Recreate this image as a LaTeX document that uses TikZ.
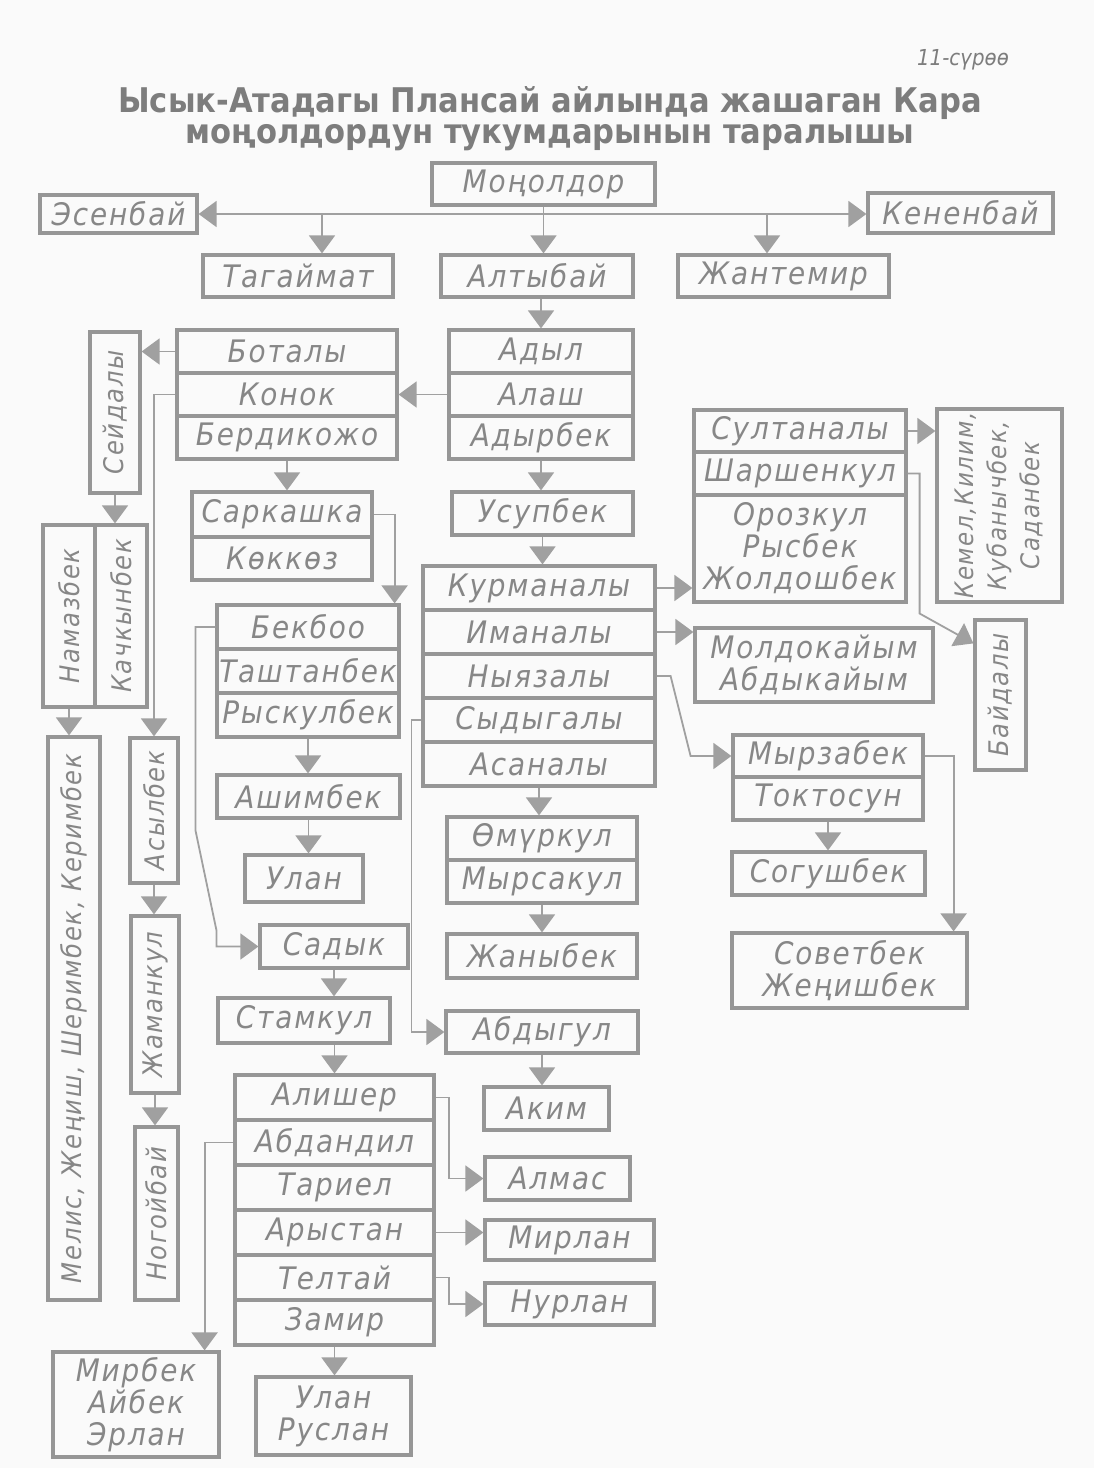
\documentclass[tikz,border=0pt]{standalone}
\usepackage{fontspec}
\usepackage{tikz}
\usetikzlibrary{arrows.meta}
\setmainfont{DejaVu Sans}
\newfontfamily\namefont[LetterSpace=6,FakeStretch=0.9]{DejaVu Sans}
\newfontfamily\titlefont[FakeStretch=0.9]{DejaVu Sans}
\definecolor{paper}{RGB}{250,250,250}
\definecolor{boxgray}{RGB}{150,150,150}
\definecolor{linkgray}{RGB}{160,160,160}
\definecolor{namegray}{RGB}{135,135,135}
\definecolor{titlegray}{RGB}{125,125,125}
\newcommand{\upname}[1]{\rotatebox{90}{#1}}
\tikzset{
  namebox/.style={draw=boxgray, line width=3.2pt, text=namegray, inner sep=0pt, align=center,
    font=\namefont\itshape\fontsize{31}{32}\selectfont},
  sidename/.style={font=\namefont\itshape\fontsize{27}{28}\selectfont},
  link/.style={draw=linkgray, line width=1.8pt},
  arr/.style={-{Triangle[width=26pt,length=18pt]}},
  twoway/.style={{Triangle[width=26pt,length=18pt]}-{Triangle[width=26pt,length=18pt]}}
}

\begin{document}
\begin{tikzpicture}[x=1pt,y=-1pt]
	\fill[paper] (0,0) rectangle (1094,1468);
	\useasboundingbox (0,0) rectangle (1094,1468);
	\node[text=titlegray, font=\titlefont\itshape\fontsize{22}{24}\selectfont] (fignum) at (963,60) {11-сүрөө};
	\node[text=titlegray, align=center, font=\titlefont\bfseries\fontsize{34}{31}\selectfont] (title) at (550,119)
		{Ысык-Атадагы Плансай айлында жашаган Кара\\моңолдордун тукумдарынын таралышы};

	\node[namebox, minimum width=223pt, minimum height=42pt] (mon) at (543.5,184) {Моңолдор};
	\node[namebox, minimum width=157pt, minimum height=38pt] (esen) at (118.5,214) {Эсенбай};
	\node[namebox, minimum width=185pt, minimum height=40pt] (kenen) at (960.5,213) {Кененбай};
	\node[namebox, minimum width=190pt, minimum height=42pt] (tagai) at (298,276) {Тагаймат};
	\node[namebox, minimum width=192pt, minimum height=42pt] (altyb) at (537,276) {Алтыбай};
	\node[namebox, minimum width=211pt, minimum height=42pt] (jantem) at (783.5,276) {Жантемир};

	\node[namebox, minimum width=184pt, minimum height=43pt] (adyl) at (541,351.5) {Адыл};
	\node[namebox, minimum width=184pt, minimum height=43pt] (alash) at (541,394.5) {Алаш};
	\node[namebox, minimum width=184pt, minimum height=43pt] (adyrb) at (541,437.5) {Адырбек};

	\node[namebox, minimum width=220pt, minimum height=43pt] (botaly) at (287,351.5) {Боталы};
	\node[namebox, minimum width=220pt, minimum height=43pt] (konok) at (287,394.5) {Конок};
	\node[namebox, minimum width=220pt, minimum height=43pt] (berdi) at (287,437.5) {Бердикожо};

	\node[namebox, sidename, minimum width=50pt, minimum height=161pt] (seid) at (115,412.5) {\upname{Сейдалы}};
	\node[namebox, sidename, minimum width=52pt, minimum height=182pt] (namaz) at (69,616) {\upname{Намазбек}};
	\node[namebox, sidename, minimum width=52pt, minimum height=182pt] (kachk) at (121,616) {\upname{Качкынбек}};
	\node[namebox, sidename, minimum width=52pt, minimum height=563pt] (melis) at (74,1018.5) {\upname{Мелис, Жеңиш, Шеримбек, Керимбек}};
	\node[namebox, sidename, minimum width=48pt, minimum height=145pt] (asyl) at (154,810.5) {\upname{Асылбек}};
	\node[namebox, sidename, minimum width=48pt, minimum height=177pt] (jaman) at (155,1004.5) {\upname{Жаманкул}};
	\node[namebox, sidename, minimum width=43pt, minimum height=173pt] (nogoi) at (156.5,1213.5) {\upname{Ногойбай}};

	\node[namebox, minimum width=180pt, minimum height=45pt] (sark) at (282,514.5) {Саркашка};
	\node[namebox, minimum width=180pt, minimum height=43pt] (kokkoz) at (282,558.5) {Көккөз};

	\node[namebox, minimum width=182pt, minimum height=44pt] (bekboo) at (308,627) {Бекбоо};
	\node[namebox, minimum width=182pt, minimum height=44pt] (tasht) at (308,671) {Таштанбек};
	\node[namebox, minimum width=182pt, minimum height=44pt] (ryskul) at (308,715) {Рыскулбек};
	\node[namebox, minimum width=183pt, minimum height=43pt] (ashim) at (308.5,796.5) {Ашимбек};
	\node[namebox, minimum width=118pt, minimum height=47pt] (ulan) at (304,878.5) {Улан};
	\node[namebox, minimum width=148pt, minimum height=43pt] (sadyk) at (334,946.5) {Садык};
	\node[namebox, minimum width=172pt, minimum height=45pt] (stamk) at (304,1020.5) {Стамкул};

	\node[namebox, minimum width=199pt, minimum height=45pt] (alisher) at (334.5,1097.5) {Алишер};
	\node[namebox, minimum width=199pt, minimum height=45pt] (abdand) at (334.5,1142.5) {Абдандил};
	\node[namebox, minimum width=199pt, minimum height=45pt] (tariel) at (334.5,1187.5) {Тариел};
	\node[namebox, minimum width=199pt, minimum height=45pt] (arystan) at (334.5,1232.5) {Арыстан};
	\node[namebox, minimum width=199pt, minimum height=45pt] (teltai) at (334.5,1277.5) {Телтай};
	\node[namebox, minimum width=199pt, minimum height=45pt] (zamir) at (334.5,1322.5) {Замир};
	\node[namebox, minimum width=145pt, minimum height=43pt] (almas) at (557.5,1178.5) {Алмас};
	\node[namebox, minimum width=169pt, minimum height=40pt] (mirlan) at (569.5,1240) {Мирлан};
	\node[namebox, minimum width=169pt, minimum height=42pt] (nurlan) at (569.5,1304) {Нурлан};
	\node[namebox, minimum width=166pt, minimum height=105pt] (mirbek) at (136,1404.5) {Мирбек\\Айбек\\Эрлан};
	\node[namebox, minimum width=155pt, minimum height=78pt] (ulanrus) at (333.5,1416) {Улан\\Руслан};

	\node[namebox, minimum width=181pt, minimum height=43pt] (usup) at (542.5,513.5) {Усупбек};
	\node[namebox, minimum width=232pt, minimum height=44pt] (kurman) at (539,588) {Курманалы};
	\node[namebox, minimum width=232pt, minimum height=44pt] (iman) at (539,632) {Иманалы};
	\node[namebox, minimum width=232pt, minimum height=44pt] (nyyaz) at (539,676) {Ныязалы};
	\node[namebox, minimum width=232pt, minimum height=44pt] (sydyg) at (539,720) {Сыдыгалы};
	\node[namebox, minimum width=232pt, minimum height=44pt] (asan) at (539,764) {Асаналы};
	\node[namebox, minimum width=190pt, minimum height=43pt] (omur) at (542,838.5) {Өмүркул};
	\node[namebox, minimum width=190pt, minimum height=43pt] (myrsak) at (542,881.5) {Мырсакул};
	\node[namebox, minimum width=190pt, minimum height=44pt] (janyb) at (542,956) {Жаныбек};
	\node[namebox, minimum width=192pt, minimum height=42pt] (abdyg) at (542,1032) {Абдыгул};
	\node[namebox, minimum width=125pt, minimum height=43pt] (akim) at (546.5,1108.5) {Аким};

	\node[namebox, minimum width=212pt, minimum height=42pt] (sultan) at (800,431) {Султаналы};
	\node[namebox, minimum width=212pt, minimum height=43pt] (sharsh) at (800,473.5) {Шаршенкул};
	\node[namebox, minimum width=212pt, minimum height=107pt] (orozk) at (800,548.5) {Орозкул\\Рысбек\\Жолдошбек};
	\node[namebox, minimum width=125pt, minimum height=193pt, font=\namefont\itshape\fontsize{25.5}{33}\selectfont] (kemel) at (999.5,505.5)
		{\upname{\begin{tabular}{@{}c@{}}Кемел,Килим,\\Кубанычбек,\\Саданбек\end{tabular}}};
	\node[namebox, sidename, minimum width=51pt, minimum height=150pt] (baid) at (1000.5,695) {\upname{Байдалы}};
	\node[namebox, minimum width=238pt, minimum height=74pt] (moldo) at (814,665) {Молдокайым\\Абдыкайым};
	\node[namebox, minimum width=190pt, minimum height=42pt] (myrza) at (828,756) {Мырзабек};
	\node[namebox, minimum width=190pt, minimum height=43pt] (toktos) at (828,798.5) {Токтосун};
	\node[namebox, minimum width=193pt, minimum height=43pt] (sogush) at (828.5,873.5) {Согушбек};
	\node[namebox, minimum width=235pt, minimum height=75pt] (sovet) at (849.5,970.5) {Советбек\\Жеңишбек};

	\coordinate (tgfork) at (322,214);
	\coordinate (jtfork) at (767,214);
	\draw[link,twoway] (esen.east) -- (esen.east -| kenen.west);
	\draw[link,arr] (mon.south) -- (mon.south |- altyb.north);
	\draw[link,arr] (tgfork) -- (tgfork |- tagai.north);
	\draw[link,arr] (jtfork) -- (jtfork |- jantem.north);
	\draw[link,arr] (adyl.north |- altyb.south) -- (adyl.north);
	\draw[link,arr] (alash.west) -- (konok.east);
	\draw[link,arr] (botaly.west) -- (botaly.west -| seid.east);
	\draw[link,arr] (konok.west) -| (asyl.north);
	\draw[link,arr] (seid.south) -- (seid.south |- kachk.north);
	\draw[link,arr] (namaz.south) -- (namaz.south |- melis.north);
	\draw[link,arr] (asyl.south) -- (asyl.south |- jaman.north);
	\draw[link,arr] (jaman.south) -- (jaman.south |- nogoi.north);
	\draw[link,arr] (berdi.south) -- (berdi.south |- sark.north);
	\draw[link,arr] (sark.east) -| ([xshift=-6pt]bekboo.north east);
	\draw[link,arr] (bekboo.west) -- ++(-20,0) -- ++(0,203) -- ++(21,100) |- (sadyk.west);
	\draw[link,arr] (ryskul.south) -- (ryskul.south |- ashim.north);
	\draw[link,arr] (ashim.south) -- (ashim.south |- ulan.north);
	\draw[link,arr] (sadyk.south) -- (sadyk.south |- stamk.north);
	\draw[link,arr] (stamk.south -| alisher.north) -- (alisher.north);
	\draw[link,arr] (alisher.east) -- ++(13,0) |- (almas.west);
	\draw[link,arr] (arystan.east) -- (arystan.east -| mirlan.west);
	\draw[link,arr] (teltai.east) -- ++(13,0) |- (nurlan.west);
	\draw[link,arr] (abdand.west) -| ([xshift=-16pt]mirbek.north east);
	\draw[link,arr] (zamir.south) -- (zamir.south |- ulanrus.north);

	\draw[link,arr] (adyrb.south) -- (adyrb.south |- usup.north);
	\draw[link,arr] (usup.south) -- (usup.south |- kurman.north);
	\draw[link,arr] (kurman.east) -- (kurman.east -| orozk.west);
	\draw[link,arr] (iman.east) -- (iman.east -| moldo.west);
	\draw[link,arr] (nyyaz.east) -- ++(14,0) -- ++(20,80) -- (myrza.west);
	\draw[link,arr] (sydyg.west) -- ++(-10,0) |- (abdyg.west);
	\draw[link,arr] (asan.south) -- (asan.south |- omur.north);
	\draw[link,arr] (myrsak.south) -- (myrsak.south |- janyb.north);
	\draw[link,arr] (abdyg.south) -- (abdyg.south |- akim.north);
	\draw[link,arr] (sultan.east) -- (sultan.east -| kemel.west);
	\draw[link,arr] (sharsh.east) -- ++(12,0) -- ++(0,140) -- ([yshift=-25pt]baid.north west);
	\draw[link,arr] (myrza.east) -| ([xshift=-15pt]sovet.north east);
	\draw[link,arr] (toktos.south) -- (toktos.south |- sogush.north);
\end{tikzpicture}
\end{document}
